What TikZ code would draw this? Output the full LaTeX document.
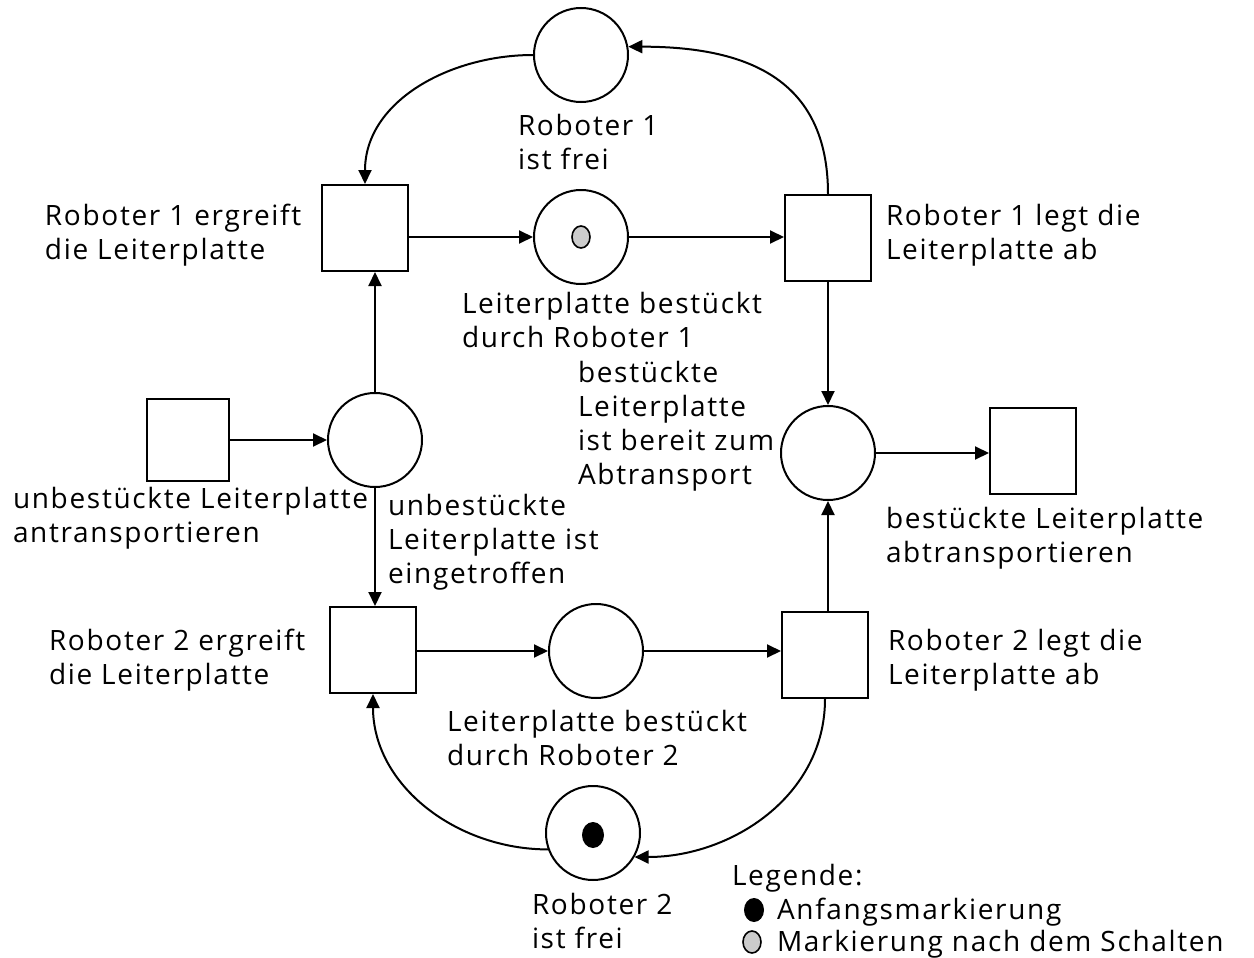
\documentclass[tikz,border=0pt]{standalone}
\usepackage{fontspec}
\setmainfont[LetterSpace=6]{Open Sans}
\usetikzlibrary{arrows.meta}
\begin{document}
\begin{tikzpicture}[x=0.5pt,y=-0.5pt,line width=1pt,
  place/.style={circle,draw,minimum size=47pt,inner sep=0pt},
  trans/.style={rectangle,draw,minimum size=43pt,inner sep=0pt},
  arc/.style={-{Triangle[length=7pt,width=6.5pt]}},
  lbl/.style={anchor=base west,align=left,inner sep=0pt,font=\fontsize{14}{17}\selectfont},
  greytok/.style={draw,line width=0.8pt,fill=black!20},
  blacktok/.style={fill=black}]
\useasboundingbox (0,0) rectangle (1254,958);

% places
\node[place] (ptop) at (581,55) {};
\node[place] (pm1)  at (581,237) {};
\node[place] (pl)   at (375,440) {};
\node[place] (pr)   at (828,453) {};
\node[place] (pm2)  at (596,651) {};
\node[place] (pbot) at (593,833) {};

% transitions
\node[trans] (t1)   at (365,228) {};
\node[trans] (t2)   at (828,238) {};
\node[trans,minimum size=41pt] (tin) at (188,440) {};
\node[trans] (tout) at (1033,451) {};
\node[trans] (t3)   at (373,650) {};
\node[trans] (t4)   at (825,655) {};

% tokens
\draw[greytok] (pm1.center) ellipse [x radius=4.5pt, y radius=5.5pt];
\fill[blacktok] (pbot.center) ++(0,2) ellipse [x radius=5.5pt, y radius=6.5pt];

% arcs
\draw[arc] (ptop.west) to[out=180,in=90] (t1.north);
\draw[arc] (t2.north) to[out=90,in=0,looseness=1.2] (ptop.10);
\draw[arc] (t1.east |- pm1) -- (pm1);
\draw[arc] (pm1) -- (t2.west |- pm1);
\draw[arc] (t2) -- (pr);
\draw[arc] (pr) -- (tout.west |- pr);
\draw[arc] (tin) -- (pl);
\draw[arc] (pl) -- (pl |- t1.south);
\draw[arc] (pl) -- (pl |- t3.north);
\draw[arc] (t3.east |- pm2) -- (pm2);
\draw[arc] (pm2) -- (pm2 -| t4.west);
\draw[arc] (t4.north -| pr) -- (pr);
\draw[arc] (t4.south) to[out=-90,in=0] (pbot.-30);
\draw[arc] (pbot.200) to[out=180,in=-90] (t3.south);

% labels (anchored at the baseline of the last line)
\node[lbl] (lptop) at (517,169) {Roboter 1\\ist frei};
\node[lbl] (lt1) at (44,259) {Roboter 1 ergreift\\die Leiterplatte};
\node[lbl] (lt2) at (885,259) {Roboter 1 legt die\\Leiterplatte ab};
\node[lbl] (lpm1) at (461,347) {Leiterplatte bestückt\\durch Roboter 1};
\node[lbl] (lpr) at (577,484) {bestückte\\Leiterplatte\\ist bereit zum\\Abtransport};
\node[lbl] (ltin) at (12,542) {unbestückte Leiterplatte\\antransportieren};
\node[lbl] (lpl) at (387,583) {unbestückte\\Leiterplatte ist\\eingetroffen};
\node[lbl] (ltout) at (885,562) {bestückte Leiterplatte\\abtransportieren};
\node[lbl] (lt3) at (48,684) {Roboter 2 ergreift\\die Leiterplatte};
\node[lbl] (lt4) at (887,684) {Roboter 2 legt die\\Leiterplatte ab};
\node[lbl] (lpm2) at (446,765) {Leiterplatte bestückt\\durch Roboter 2};
\node[lbl] (lpbot) at (531,948) {Roboter 2\\ist frei};

% legend
\node[lbl] (leg) at (731,885) {Legende:};
\node[lbl] (leg1) at (776,919) {Anfangsmarkierung};
\node[lbl] (leg2) at (776,951) {Markierung nach dem Schalten};
\fill[blacktok] (754,910) ellipse [x radius=5pt, y radius=6pt];
\draw[greytok] (752,942) ellipse [x radius=4.5pt, y radius=5.5pt];
\end{tikzpicture}
\end{document}
